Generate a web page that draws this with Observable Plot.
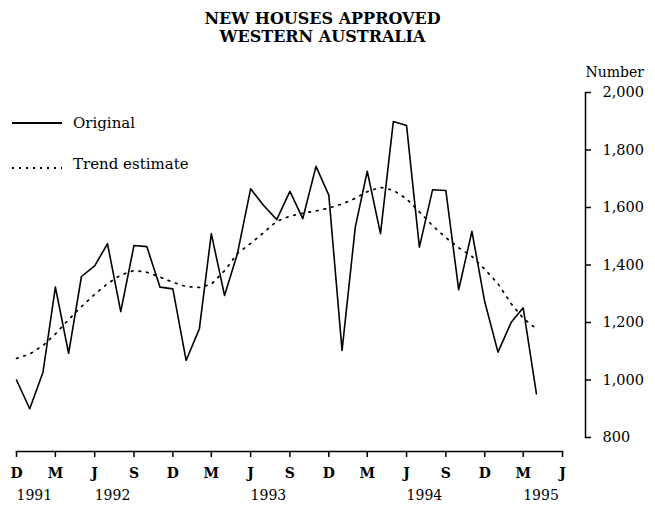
<!DOCTYPE html>
<html>
<head>
<meta charset="utf-8">
<script src="https://cdn.jsdelivr.net/npm/d3@7"></script>
<script src="https://cdn.jsdelivr.net/npm/@observablehq/plot@0.6"></script>
<style>
  html, body { margin: 0; padding: 0; background: #fff; }
  body { width: 655px; height: 506px; position: relative; overflow: hidden; font-family: 'DejaVu Serif', serif; color: #000; }
  #title { width: 645px; text-align: center; font-weight: bold; font-size: 16px; line-height: 18px; padding-top: 10px; height: 40px; }
  #chart { position: absolute; left: 0; top: 50px; }
  .leg { position: absolute; left: 12px; font-size: 15px; }
  .leg .sw { position: absolute; left: 0; width: 50px; }
  .leg .lab { position: absolute; left: 61px; white-space: nowrap; }
</style>
</head>
<body>
<div id="title">NEW HOUSES APPROVED<br>WESTERN AUSTRALIA</div>
<div id="chart"></div>
<div class="leg" style="top:114px"><div class="sw" style="top:8px;height:1.6px;background:#000"></div><div class="lab">Original</div></div>
<div class="leg" style="top:155px"><div class="sw" style="top:12px;height:1.6px;background:repeating-linear-gradient(to right,#000 0 1.6px,transparent 1.6px 7px)"></div><div class="lab">Trend estimate</div></div>
<script>
const months = [
  "1991-12",
  "1992-01","1992-02","1992-03","1992-04","1992-05","1992-06","1992-07","1992-08","1992-09","1992-10","1992-11","1992-12",
  "1993-01","1993-02","1993-03","1993-04","1993-05","1993-06","1993-07","1993-08","1993-09","1993-10","1993-11","1993-12",
  "1994-01","1994-02","1994-03","1994-04","1994-05","1994-06","1994-07","1994-08","1994-09","1994-10","1994-11","1994-12",
  "1995-01","1995-02","1995-03","1995-04"
];
const original = [
  1000,
  900, 1027, 1323, 1093, 1360, 1397, 1474, 1238, 1468, 1464, 1323, 1317,
  1068, 1178, 1509, 1294, 1439, 1665, 1608, 1558, 1656, 1561, 1743, 1643,
  1103, 1532, 1726, 1509, 1899, 1885, 1462, 1662, 1659, 1314, 1517, 1272,
  1097, 1201, 1251, 952
];
const trend = [
  1075,
  1090, 1120, 1160, 1210, 1255, 1298, 1335, 1365, 1381, 1375, 1358, 1340,
  1325, 1322, 1333, 1380, 1440, 1475, 1512, 1552, 1570, 1580, 1588, 1598,
  1612, 1632, 1655, 1670, 1660, 1630, 1585, 1537, 1495, 1460, 1430, 1385,
  1335, 1265, 1215, 1178
];
const tickMonths = ["1991-12","1992-03","1992-06","1992-09","1992-12","1993-03","1993-06","1993-09","1993-12","1994-03","1994-06","1994-09","1994-12","1995-03","1995-06"];
const tickLetters = ["D","M","J","S","D","M","J","S","D","M","J","S","D","M","J"];
const yearMonths = ["1991-12","1992-06","1993-06","1994-06","1995-03"];
const yearLabels = ["1991","1992","1993","1994","1995"];
const yTicks = [800, 1000, 1200, 1400, 1600, 1800, 2000];

const parse = d3.utcParse("%Y-%m");
const origData = months.map((m, i) => ({date: parse(m), value: original[i]}));
const trendData = months.map((m, i) => ({date: parse(m), value: trend[i]}));
const tickDates = tickMonths.map(parse);
const letterByTime = new Map(tickDates.map((d, i) => [+d, tickLetters[i]]));
const yearData = yearMonths.map((m, i) => ({date: parse(m), label: yearLabels[i]}));

const chart = Plot.plot({
  width: 655,
  height: 456,
  marginTop: 42,
  marginBottom: 55,
  marginLeft: 16,
  marginRight: 70,
  style: {fontFamily: "'DejaVu Serif', serif", fontSize: "14px", color: "#000", background: "#fff", overflow: "visible"},
  x: {type: "utc", domain: [tickDates[0], tickDates[tickDates.length - 1]], insetRight: 23},
  y: {domain: d3.extent(yTicks), insetBottom: 14},
  marks: [
    Plot.frame({anchor: "bottom", insetRight: 23, strokeWidth: 1.5}),
    Plot.frame({anchor: "right", insetBottom: 14, strokeWidth: 1.5}),
    Plot.axisX(tickDates, {anchor: "bottom", tickSize: 6, tickPadding: 11, strokeWidth: 1.5, tickFormat: d => letterByTime.get(+d), fontWeight: "bold", label: null}),
    Plot.axisY(yTicks, {anchor: "right", tickSize: 5, tickPadding: 12, strokeWidth: 1.5, fontSize: 14.5, tickFormat: d3.format(","), label: null}),
    Plot.text(yearData, {x: "date", text: "label", frameAnchor: "bottom", dy: 39, lineAnchor: "top", textAnchor: "start"}),
    Plot.text(["Number"], {frameAnchor: "top-right", textAnchor: "start", lineAnchor: "middle", dy: -20}),
    Plot.line(trendData, {x: "date", y: "value", stroke: "#000", strokeWidth: 1.7, strokeDasharray: "1.7,6"}),
    Plot.line(origData, {x: "date", y: "value", stroke: "#000", strokeWidth: 1.6})
  ]
});
document.getElementById("chart").appendChild(chart);
</script>
</body>
</html>
